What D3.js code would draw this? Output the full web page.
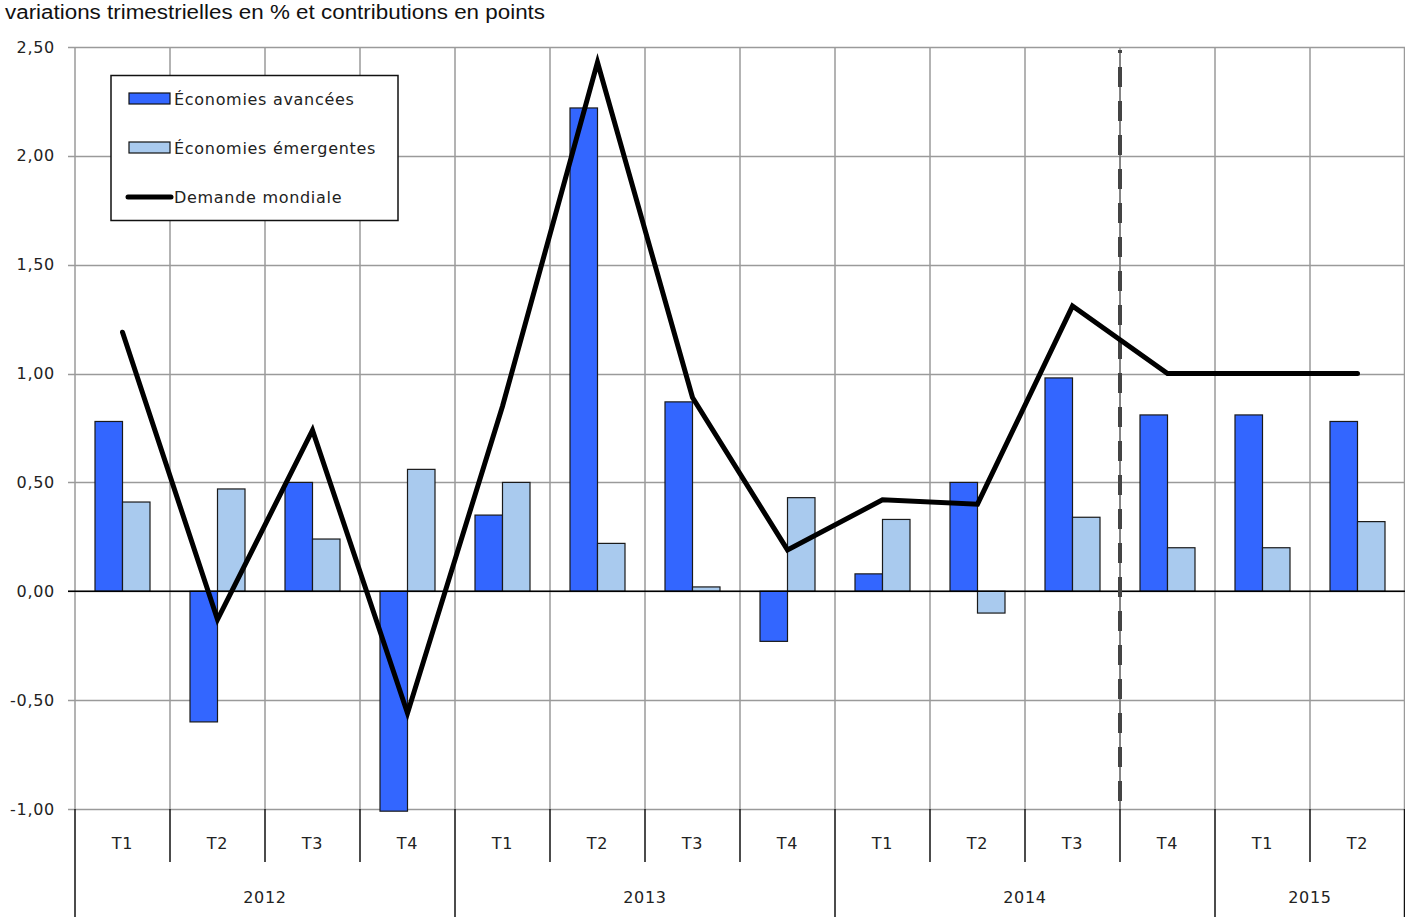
<!DOCTYPE html>
<html><head><meta charset="utf-8">
<script src="https://cdnjs.cloudflare.com/ajax/libs/d3/7.8.5/d3.min.js"></script>
<style>body{margin:0;background:#fff}svg{display:block}</style>
</head><body>
<svg id="c" width="1405" height="917"></svg>
<script>
const quarters = ["T1","T2","T3","T4","T1","T2","T3","T4","T1","T2","T3","T4","T1","T2"];
const years = [{label:"2012",start:0,end:4},{label:"2013",start:4,end:8},{label:"2014",start:8,end:12},{label:"2015",start:12,end:14}];
const advanced = [0.78,-0.60,0.50,-1.01,0.35,2.22,0.87,-0.23,0.08,0.50,0.98,0.81,0.81,0.78];
const emerging = [0.41,0.47,0.24,0.56,0.50,0.22,0.02,0.43,0.33,-0.10,0.34,0.20,0.20,0.32];
const demand = [1.19,-0.13,0.74,-0.56,0.85,2.43,0.89,0.19,0.42,0.40,1.31,1.00,1.00,1.00];
const yTicks = [-1,-0.5,0,0.5,1,1.5,2,2.5];
const seriesNames = ["Économies avancées","Économies émergentes","Demande mondiale"];
const forecastIndex = 11;

const svg = d3.select("#c");
const L=75,R=1405,T=47,B=809;
const idx = d3.range(quarters.length);
const x = d3.scaleBand().domain(idx).range([L,R]);
const y = d3.scaleLinear().domain([-1,2.5]).range([B,T]);
const sub = d3.scaleBand().domain([0,1]).range([0,55]);
const fmt = v => d3.format(".2f")(v).replace(".",",").replace("−","-");
const font = "DejaVu Sans, Verdana, sans-serif";
const fs = 16, ls = 0.7;
const grey = "#9a9a9a";

svg.append("text").attr("x",5).attr("y",19).attr("font-family","Liberation Sans Narrow, Liberation Sans, sans-serif")
  .attr("font-size",20).attr("fill","#111").attr("textLength",540).attr("lengthAdjust","spacingAndGlyphs")
  .text("variations trimestrielles en % et contributions en points");

// horizontal grid
svg.append("g").selectAll("line").data(yTicks).join("line")
  .attr("x1",68).attr("x2",R).attr("y1",d=>Math.round(y(d))+0.5).attr("y2",d=>Math.round(y(d))+0.5)
  .attr("stroke",grey).attr("stroke-width",1.5);
// vertical grid
svg.append("g").selectAll("line").data(d3.range(quarters.length+1)).join("line")
  .attr("x1",d=>d<quarters.length?x(d):R-0.5).attr("x2",d=>d<quarters.length?x(d):R-0.5)
  .attr("y1",T).attr("y2",B).attr("stroke",grey).attr("stroke-width",1.5);
// y labels
svg.append("g").selectAll("text").data(yTicks).join("text")
  .attr("x",55).attr("y",d=>y(d)+5.5).attr("text-anchor","end").attr("letter-spacing",ls)
  .attr("font-family",font).attr("font-size",fs).attr("fill","#222").text(fmt);

// bars
const g = svg.append("g");
g.selectAll("rect.a").data(advanced).join("rect").attr("class","a")
  .attr("x",(d,i)=>x(i)+20+sub(0)).attr("width",sub.bandwidth())
  .attr("y",d=>y(Math.max(0,d))).attr("height",d=>Math.abs(y(d)-y(0)))
  .attr("fill","#3366ff").attr("stroke","#1a1a1a").attr("stroke-width",1.2);
g.selectAll("rect.e").data(emerging).join("rect").attr("class","e")
  .attr("x",(d,i)=>x(i)+20+sub(1)).attr("width",sub.bandwidth())
  .attr("y",d=>y(Math.max(0,d))).attr("height",d=>Math.abs(y(d)-y(0)))
  .attr("fill","#a9caee").attr("stroke","#1a1a1a").attr("stroke-width",1.2);

// zero line
svg.append("line").attr("x1",68).attr("x2",R).attr("y1",y(0)).attr("y2",y(0)).attr("stroke","#000").attr("stroke-width",1.5);

// dashed forecast line
svg.append("line").attr("x1",x(forecastIndex)).attr("x2",x(forecastIndex)).attr("y1",T+3).attr("y2",B)
  .attr("stroke","#666").attr("stroke-width",1.2);
svg.append("line").attr("x1",x(forecastIndex)).attr("x2",x(forecastIndex)).attr("y1",T+3).attr("y2",B)
  .attr("stroke","#444").attr("stroke-width",4).attr("stroke-dasharray","20,14").attr("stroke-dashoffset",17);

// demand line
svg.append("path").datum(demand).attr("fill","none").attr("stroke","#000").attr("stroke-width",5)
  .attr("stroke-linejoin","miter").attr("stroke-linecap","round")
  .attr("d",d3.line().x((d,i)=>x(i)+x.bandwidth()/2).y(d=>y(d)));

// x axis categories
const ax = svg.append("g");
ax.selectAll("line.q").data(d3.range(quarters.length+1)).join("line")
  .attr("x1",d=>d<quarters.length?x(d):R-0.5).attr("x2",d=>d<quarters.length?x(d):R-0.5)
  .attr("y1",B).attr("y2",d=>(years.some(yr=>yr.start===d)||d===quarters.length)?917:862)
  .attr("stroke","#111").attr("stroke-width",1.5);
ax.selectAll("text.q").data(quarters).join("text")
  .attr("x",(d,i)=>x(i)+x.bandwidth()/2).attr("y",849).attr("text-anchor","middle").attr("letter-spacing",ls)
  .attr("font-family",font).attr("font-size",fs).attr("fill","#222").text(d=>d);
ax.selectAll("text.y").data(years).join("text")
  .attr("x",d=>(x(d.start)+(d.end<quarters.length?x(d.end):R))/2).attr("y",903).attr("text-anchor","middle").attr("letter-spacing",ls)
  .attr("font-family",font).attr("font-size",fs).attr("fill","#222").text(d=>d.label);

// legend
const lg = svg.append("g");
lg.append("rect").attr("x",111).attr("y",75.5).attr("width",287).attr("height",145).attr("fill","#fff").attr("stroke","#111").attr("stroke-width",1.5);
lg.append("rect").attr("x",129).attr("y",93).attr("width",41).attr("height",11).attr("fill","#3366ff").attr("stroke","#111").attr("stroke-width",1.2);
lg.append("rect").attr("x",129).attr("y",142).attr("width",41).attr("height",11).attr("fill","#a9caee").attr("stroke","#111").attr("stroke-width",1.2);
lg.append("line").attr("x1",128).attr("x2",171).attr("y1",197).attr("y2",197).attr("stroke","#000").attr("stroke-width",5).attr("stroke-linecap","round");
lg.selectAll("text").data(seriesNames).join("text")
  .attr("x",174).attr("y",(d,i)=>105+i*49).attr("letter-spacing",ls).attr("font-family",font).attr("font-size",fs).attr("fill","#222").text(d=>d);
</script>
</body></html>
